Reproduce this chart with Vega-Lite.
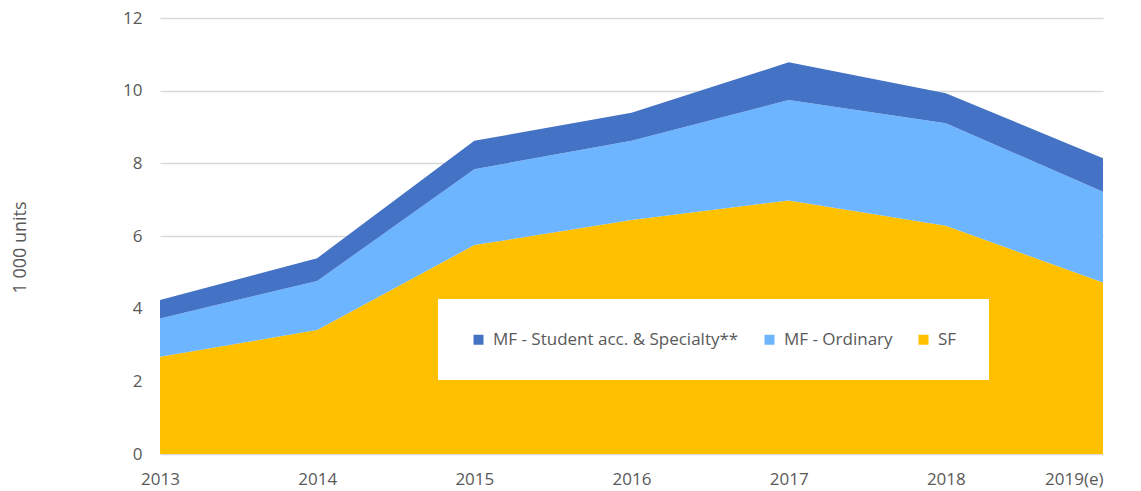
{
  "$schema": "https://vega.github.io/schema/vega-lite/v6.json",
  "autosize": {"type": "none"},
  "width": 943,
  "height": 436,
  "padding": {"left": 160, "top": 18, "right": 38, "bottom": 37},
  "background": "white",
  "config": {
    "view": {"stroke": null},
    "font": "Open Sans",
    "axis": {"labelFont": "Open Sans", "labelFontSize": 17, "labelColor": "#595959", "titleFont": "Open Sans", "titleFontSize": 18, "titleColor": "#595959", "titleFontWeight": "normal"},
    "legend": {"labelFont": "Open Sans", "labelFontSize": 17, "labelColor": "#595959"}
  },
  "data": {
    "values": [
      {"year": "2013", "series": "SF", "rank": 1, "value": 2.68},
      {"year": "2014", "series": "SF", "rank": 1, "value": 3.41},
      {"year": "2015", "series": "SF", "rank": 1, "value": 5.75},
      {"year": "2016", "series": "SF", "rank": 1, "value": 6.44},
      {"year": "2017", "series": "SF", "rank": 1, "value": 6.98},
      {"year": "2018", "series": "SF", "rank": 1, "value": 6.28},
      {"year": "2019(e)", "series": "SF", "rank": 1, "value": 4.72},
      {"year": "2013", "series": "MF - Ordinary", "rank": 2, "value": 1.05},
      {"year": "2014", "series": "MF - Ordinary", "rank": 2, "value": 1.35},
      {"year": "2015", "series": "MF - Ordinary", "rank": 2, "value": 2.09},
      {"year": "2016", "series": "MF - Ordinary", "rank": 2, "value": 2.18},
      {"year": "2017", "series": "MF - Ordinary", "rank": 2, "value": 2.76},
      {"year": "2018", "series": "MF - Ordinary", "rank": 2, "value": 2.82},
      {"year": "2019(e)", "series": "MF - Ordinary", "rank": 2, "value": 2.50},
      {"year": "2013", "series": "MF - Student acc. & Specialty**", "rank": 3, "value": 0.51},
      {"year": "2014", "series": "MF - Student acc. & Specialty**", "rank": 3, "value": 0.63},
      {"year": "2015", "series": "MF - Student acc. & Specialty**", "rank": 3, "value": 0.78},
      {"year": "2016", "series": "MF - Student acc. & Specialty**", "rank": 3, "value": 0.77},
      {"year": "2017", "series": "MF - Student acc. & Specialty**", "rank": 3, "value": 1.04},
      {"year": "2018", "series": "MF - Student acc. & Specialty**", "rank": 3, "value": 0.83},
      {"year": "2019(e)", "series": "MF - Student acc. & Specialty**", "rank": 3, "value": 0.92}
    ]
  },
  "mark": {"type": "area", "opacity": 1},
  "encoding": {
    "x": {
      "field": "year", "type": "ordinal",
      "scale": {"type": "point", "padding": 0},
      "axis": {"title": null, "labelAngle": 0, "domain": false, "ticks": false, "grid": false, "labelPadding": 17,
               "labelAlign": {"expr": "datum.label == '2019(e)' ? 'right' : 'center'"}}
    },
    "y": {
      "field": "value", "type": "quantitative", "stack": "zero",
      "scale": {"domain": [0, 12], "nice": false},
      "axis": {"title": "1 000 units", "values": [0, 2, 4, 6, 8, 10, 12], "domain": false, "ticks": false,
               "labelPadding": 18, "gridColor": "#d9d9d9", "gridWidth": 1.5, "titlePadding": 93, "titleY": 229}
    },
    "color": {
      "field": "series", "type": "nominal",
      "scale": {"domain": ["MF - Student acc. & Specialty**", "MF - Ordinary", "SF"], "range": ["#4472C4", "#6DB6FF", "#FFC000"]},
      "legend": {
        "title": null, "orient": "none", "legendX": 278, "legendY": 281, "direction": "horizontal",
        "fillColor": "white", "padding": 32, "symbolType": "square", "symbolSize": 100, "symbolStrokeWidth": 0,
        "symbolOpacity": 1, "labelOffset": 6, "columnPadding": 22, "labelLimit": 400
      }
    },
    "order": {"field": "rank", "type": "quantitative", "sort": "ascending"}
  }
}
